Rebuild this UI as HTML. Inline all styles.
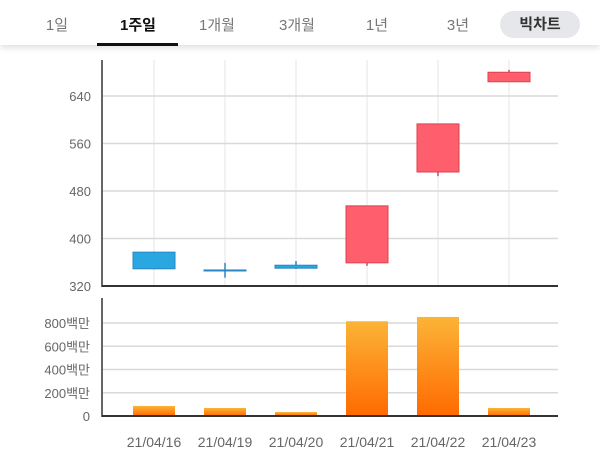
<!DOCTYPE html>
<html><head><meta charset="utf-8"><style>
body{margin:0;width:600px;height:475px;background:#fff;overflow:hidden;font-family:"Liberation Sans","Noto Sans CJK KR",sans-serif;}
#hdr{position:absolute;left:0;top:0;width:600px;height:45px;background:#fff;box-shadow:0 3px 6px rgba(0,0,0,0.12);}
.tab{position:absolute;top:14px;font-size:15px;color:#777;transform:translateX(-50%);}
.on{color:#111;font-weight:bold;}
#ul{position:absolute;left:97px;top:43px;width:81px;height:3px;background:#111;}
#pill{position:absolute;left:500px;top:11px;width:80px;height:27px;border-radius:14px;background:#e6e7ea;color:#333;font-weight:bold;font-size:15px;text-align:center;line-height:27px;}
svg{position:absolute;left:0;top:0;}
</style></head><body>
<div id="hdr">
<span class="tab" style="left:57px">1일</span>
<span class="tab on" style="left:138px">1주일</span>
<span class="tab" style="left:217px">1개월</span>
<span class="tab" style="left:297px">3개월</span>
<span class="tab" style="left:377px">1년</span>
<span class="tab" style="left:458px">3년</span>
<div id="ul"></div>
<div id="pill">빅차트</div>
</div>
<svg id="c" width="600" height="475"></svg>
<script>
const dates=["21/04/16","21/04/19","21/04/20","21/04/21","21/04/22","21/04/23"];
const opens=[377,347,355,359,512,664];
const closes=[349,347,350,455,593,680];
const highs=[378,359,362,455,593,684];
const lows=[348,334,349,354,505,664];
const volumes=[86,69,34,815,852,69];
const priceTicks=[320,400,480,560,640];
const volTicks=[0,200,400,600,800];
const volTickLabels=["0","200백만","400백만","600백만","800백만"];

const svg=document.getElementById('c');
const NS='http://www.w3.org/2000/svg';
function mk(t,a,p){const e=document.createElementNS(NS,t);for(const k in a)e.setAttribute(k,a[k]);(p||svg).appendChild(e);return e;}
const x0=102,x1=558;
const xc=i=>154+i*71;
const py=v=>286-(v-320)*(47.5/80);
const vy=v=>416-v*(93/800);

dates.forEach((d,i)=>{const l=mk('line',{x1:xc(i),x2:xc(i),y1:60,y2:286,stroke:'#e6e6e6'});

});
priceTicks.forEach(t=>{
 if(t>320){const l=mk('line',{x1:x0,x2:x1,y1:py(t),y2:py(t),stroke:'#d9d9d9','stroke-width':1.5});
 
 }
 const tx=mk('text',{x:91,y:py(t)+5,'text-anchor':'end','font-size':13,fill:'#666'});tx.textContent=t;
 
 
});
mk('line',{x1:x0,x2:x0,y1:60,y2:287,stroke:'#666','stroke-width':2,});
mk('line',{x1:x0,x2:x1,y1:286,y2:286,stroke:'#333','stroke-width':2,});
dates.forEach((d,i)=>{
 const up=closes[i]>opens[i];
 const col=up?'#ff5f6d':'#29a7e1', st=up?'#d9434f':'#2a86c2';
 const w=mk('line',{x1:xc(i),x2:xc(i),y1:py(highs[i]),y2:py(lows[i]),stroke:st,'stroke-width':1.5});
 
 
 const top=py(Math.max(opens[i],closes[i])),bot=py(Math.min(opens[i],closes[i]));
 const r=mk('rect',{x:xc(i)-21,y:top,width:42,height:Math.max(bot-top,1),fill:col,stroke:st,'stroke-width':1});
 
 
});
const defs=mk('defs',{});
const g=mk('linearGradient',{id:'og',x1:0,y1:0,x2:0,y2:1},defs);
mk('stop',{offset:'0','stop-color':'#fbb437'},g);mk('stop',{offset:'1','stop-color':'#ff6a00'},g);
volTicks.forEach((t,i)=>{
 if(t>0){const l=mk('line',{x1:x0,x2:x1,y1:vy(t),y2:vy(t),stroke:'#d9d9d9','stroke-width':1.5});
 
 }
 const tx=mk('text',{x:90,y:vy(t)+5,'text-anchor':'end','font-size':13,fill:'#666'});tx.textContent=volTickLabels[i];
 
 
});
volumes.forEach((v,i)=>{
 const r=mk('rect',{x:xc(i)-21,y:vy(v),width:42,height:416-vy(v),fill:'url(#og)'});
 
 
 const tx=mk('text',{x:xc(i),y:447,'text-anchor':'middle','font-size':14,fill:'#666'});tx.textContent=dates[i];
 
 
});
mk('line',{x1:x0,x2:x0,y1:298,y2:417,stroke:'#666','stroke-width':2,});
mk('line',{x1:x0,x2:x1,y1:416,y2:416,stroke:'#333','stroke-width':2,});
</script>
</body></html>
